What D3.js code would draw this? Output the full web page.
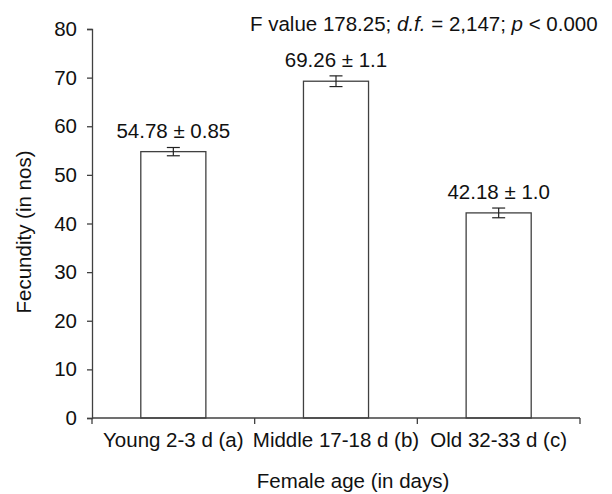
<!DOCTYPE html>
<html>
<head>
<meta charset="utf-8">
<script src="https://cdn.jsdelivr.net/npm/d3@7"></script>
<style>
  body { margin: 0; background: #fff; }
  text { font-family: "Liberation Sans", Arial, sans-serif; fill: #111; }
</style>
</head>
<body>
<svg id="chart"></svg>
<script>
// data
const categories = ["Young 2-3 d (a)", "Middle 17-18 d (b)", "Old 32-33 d (c)"];
const means = [54.78, 69.26, 42.18];
const errors = [0.85, 1.1, 1.0];
const barLabels = ["54.78 \u00b1 0.85", "69.26 \u00b1 1.1", "42.18 \u00b1 1.0"];
const yTicks = [0, 10, 20, 30, 40, 50, 60, 70, 80];

const width = 612, height = 494;
const margin = { top: 29, right: 32, bottom: 76, left: 92 };
const innerW = width - margin.left - margin.right;
const innerH = height - margin.top - margin.bottom;
const axisColor = "#404040";
const fontSize = 20.5;

const svg = d3.select("#chart")
  .attr("width", width)
  .attr("height", height);

const g = svg.append("g")
  .attr("transform", `translate(${margin.left},${margin.top})`);

const x = d3.scaleBand()
  .domain(categories)
  .range([0, innerW])
  .paddingInner(0.6)
  .paddingOuter(0.3);

const y = d3.scaleLinear()
  .domain([0, 80])
  .range([innerH, 0]);

// bars
g.selectAll(".bar")
  .data(categories)
  .join("rect")
  .attr("class", "bar")
  .attr("x", d => x(d))
  .attr("y", (d, i) => y(means[i]))
  .attr("width", x.bandwidth())
  .attr("height", (d, i) => innerH - y(means[i]))
  .attr("fill", "#fff")
  .attr("stroke", axisColor)
  .attr("stroke-width", 1.3);

// error bars
const capW = 6.5;
const err = g.selectAll(".err")
  .data(categories)
  .join("g")
  .attr("class", "err")
  .attr("transform", d => `translate(${x(d) + x.bandwidth() / 2},0)`)
  .attr("stroke", "#222")
  .attr("stroke-width", 1.2);

err.append("line")
  .attr("y1", (d, i) => y(means[i] - errors[i]))
  .attr("y2", (d, i) => y(means[i] + errors[i]));
err.append("line")
  .attr("x1", -capW).attr("x2", capW)
  .attr("y1", (d, i) => y(means[i] + errors[i]))
  .attr("y2", (d, i) => y(means[i] + errors[i]));
err.append("line")
  .attr("x1", -capW).attr("x2", capW)
  .attr("y1", (d, i) => y(means[i] - errors[i]))
  .attr("y2", (d, i) => y(means[i] - errors[i]));

// value labels
g.selectAll(".val")
  .data(categories)
  .join("text")
  .attr("class", "val")
  .attr("x", d => x(d) + x.bandwidth() / 2)
  .attr("y", (d, i) => y(means[i] + errors[i]) - 9)
  .attr("text-anchor", "middle")
  .style("font-size", fontSize + "px")
  .text((d, i) => barLabels[i]);

// y axis
const yAxis = g.append("g")
  .call(d3.axisLeft(y).tickValues(yTicks).tickSize(5).tickPadding(10));
yAxis.select(".domain").attr("stroke", axisColor).attr("stroke-width", 1.3);
yAxis.selectAll(".tick line").attr("stroke", axisColor).attr("stroke-width", 1.3);
yAxis.selectAll(".tick text")
  .style("font-size", fontSize + "px")
  .style("font-family", "'Liberation Sans', Arial, sans-serif")
  .attr("fill", "#111");

// x axis: ticks on band boundaries
const xAxisG = g.append("g").attr("transform", `translate(0,${innerH})`);
xAxisG.append("line")
  .attr("x1", 0).attr("x2", innerW)
  .attr("stroke", axisColor).attr("stroke-width", 1.3);
const step = innerW / categories.length;
xAxisG.selectAll(".xt")
  .data(d3.range(categories.length + 1))
  .join("line")
  .attr("class", "xt")
  .attr("x1", d => d * step).attr("x2", d => d * step)
  .attr("y1", 0).attr("y2", 6)
  .attr("stroke", axisColor).attr("stroke-width", 1.3);
xAxisG.selectAll(".xl")
  .data(categories)
  .join("text")
  .attr("class", "xl")
  .attr("x", d => x(d) + x.bandwidth() / 2)
  .attr("y", 29)
  .attr("text-anchor", "middle")
  .style("font-size", fontSize + "px")
  .text(d => d);

// axis titles
svg.append("text")
  .attr("x", 353)
  .attr("y", 488)
  .attr("text-anchor", "middle")
  .style("font-size", fontSize + "px")
  .text("Female age (in days)");

svg.append("text")
  .attr("transform", "translate(31,232) rotate(-90)")
  .attr("text-anchor", "middle")
  .style("font-size", fontSize + "px")
  .text("Fecundity (in nos)");

// statistics note
const note = svg.append("text")
  .attr("x", 250)
  .attr("y", 31)
  .style("font-size", fontSize + "px");
note.append("tspan").text("F value 178.25; ");
note.append("tspan").style("font-style", "italic").text("d.f.");
note.append("tspan").text(" = 2,147; ");
note.append("tspan").style("font-style", "italic").text("p");
note.append("tspan").text(" < 0.000");
</script>
</body>
</html>
